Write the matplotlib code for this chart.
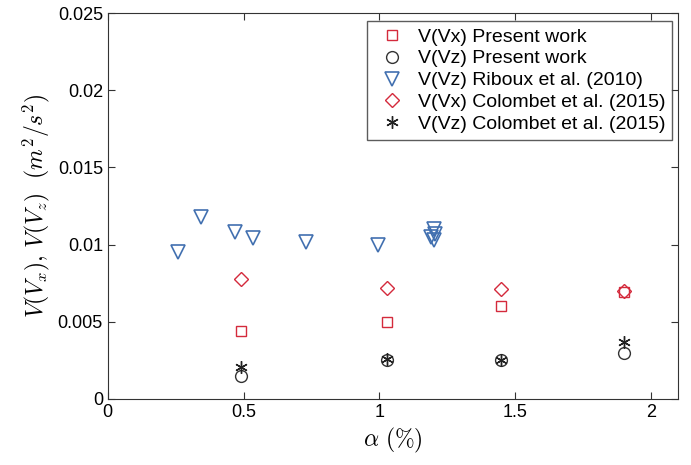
import numpy as np
import matplotlib.pyplot as plt

plt.rcParams['font.family'] = ['Liberation Sans', 'DejaVu Sans']
plt.rcParams['mathtext.fontset'] = 'cm'

# present work
alpha_pw = [0.49, 1.03, 1.45, 1.90]
vx_pw = [0.0044, 0.0050, 0.0060, 0.0069]
vz_pw = [0.0015, 0.0025, 0.0025, 0.0030]

# Riboux et al. (2010)
alpha_rib = [0.26, 0.345, 0.47, 0.535, 0.73, 0.995, 1.20, 1.205, 1.19, 1.20]
vz_rib = [0.0095, 0.0118, 0.0108, 0.0104, 0.0102, 0.0100, 0.0110, 0.0107, 0.0105, 0.0103]

# Colombet et al. (2015)
alpha_col = [0.49, 1.03, 1.45, 1.90]
vx_col = [0.0078, 0.0072, 0.0071, 0.0070]
vz_col = [0.0021, 0.0026, 0.0025, 0.0037]

red = '#d42a3c'
blue = '#4270b0'

fig = plt.figure(figsize=(6.91, 4.65), dpi=100)
ax = fig.add_axes([0.156, 0.142, 0.825, 0.830])

ax.plot(alpha_pw, vx_pw, 's', mfc='none', mec=red, ms=7, mew=1.0, label='V(Vx) Present work')
ax.plot(alpha_pw, vz_pw, 'o', mfc='none', mec='#333333', ms=8.5, mew=1.0, label='V(Vz) Present work')
ax.plot(alpha_rib, vz_rib, 'v', mfc='none', mec=blue, ms=9.5, mew=1.2, label='V(Vz) Riboux et al. (2010)')
ax.plot(alpha_col, vx_col, 'D', mfc='none', mec=red, ms=7.5, mew=1.0, label='V(Vx) Colombet et al. (2015)')
ax.plot(alpha_col, vz_col, marker=(6, 2, 0), ls='none', color='#222222', ms=9, mew=1.0, label='V(Vz) Colombet et al. (2015)')

ax.set_xlim(0, 2.1)
ax.set_ylim(0, 0.025)
ax.set_xticks([0, 0.5, 1, 1.5, 2])
ax.set_xticklabels(['0', '0.5', '1', '1.5', '2'])
ax.set_yticks([0, 0.005, 0.01, 0.015, 0.02, 0.025])
ax.set_yticklabels(['0', '0.005', '0.01', '0.015', '0.02', '0.025'])
ax.tick_params(direction='in', top=True, right=True, labelsize=13, length=5, color='#333333')
for s in ax.spines.values():
    s.set_color('#333333')

ax.set_xlabel(r'$\alpha\ (\%)$', fontsize=17)
ax.set_ylabel(r'$V(V_x),\, V(V_z)\ \ (m^2/s^2)$', fontsize=17)

leg = ax.legend(loc='upper right', bbox_to_anchor=(0.9895, 0.979), fontsize=14,
                frameon=True, fancybox=False, edgecolor='#333333',
                labelspacing=0.22, handletextpad=0.35, borderaxespad=0.0,
                handlelength=1.9, borderpad=0.35)
leg.get_frame().set_linewidth(1.0)

plt.savefig('out.png', dpi=100)
